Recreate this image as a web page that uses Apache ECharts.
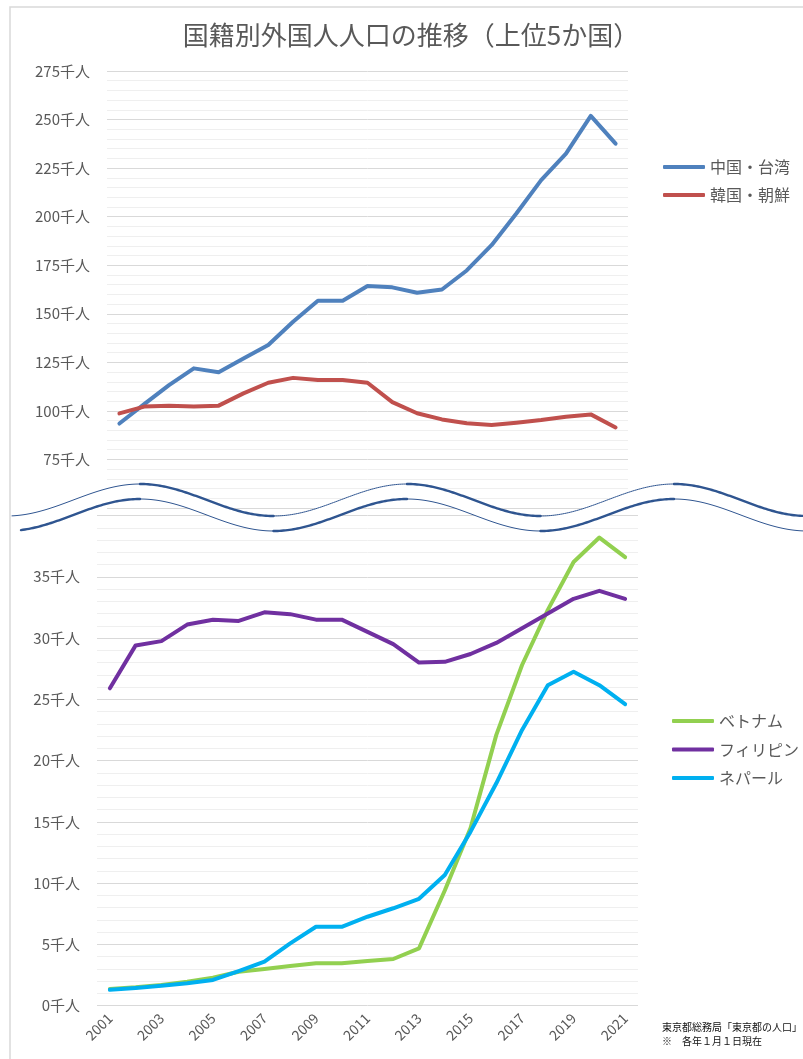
<!DOCTYPE html>
<html>
<head>
<meta charset="utf-8">
<script src="https://cdn.jsdelivr.net/npm/echarts@6/dist/echarts.min.js"></script>
<style>
    html, body {
        margin: 0;
        padding: 0;
        background: #fff;
    }
    #chart {
        width: 803px;
        height: 1059px;
    }
</style>
</head>
<body>
<div id="chart"></div>
<script>
// 年 (x軸)
const years = ['2001', '2002', '2003', '2004', '2005', '2006', '2007', '2008', '2009', '2010', '2011',
    '2012', '2013', '2014', '2015', '2016', '2017', '2018', '2019', '2020', '2021'];

// 上段 (千人)
const chinaTaiwan = [93.5, 103.5, 113.3, 121.9, 119.9, 127.0, 133.9, 145.9, 156.7, 156.7, 164.3,
    163.6, 160.8, 162.5, 172.3, 185.3, 201.6, 218.8, 232.5, 251.9, 237.6];
const korea = [98.7, 102.2, 102.7, 102.2, 102.7, 109.0, 114.5, 117.0, 115.9, 115.9, 114.5,
    104.5, 98.8, 95.6, 93.6, 92.7, 93.9, 95.3, 97.0, 98.2, 91.5];

// 下段 (千人)
const vietnam = [1.36, 1.5, 1.69, 1.96, 2.28, 2.77, 2.99, 3.24, 3.46, 3.46, 3.65,
    3.81, 4.68, 9.4, 14.5, 22.1, 27.8, 32.3, 36.2, 38.2, 36.6];
const philippines = [25.9, 29.4, 29.75, 31.1, 31.5, 31.4, 32.1, 31.95, 31.5, 31.5, 30.5,
    29.5, 28.0, 28.06, 28.7, 29.6, 30.8, 32.0, 33.2, 33.85, 33.2];
const nepal = [1.3, 1.45, 1.63, 1.83, 2.1, 2.83, 3.59, 5.09, 6.44, 6.44, 7.26,
    7.95, 8.72, 10.66, 14.2, 18.15, 22.5, 26.15, 27.25, 26.15, 24.6];

const FONT = '"Noto Sans CJK JP", "Noto Sans", sans-serif';
const GRAY = '#595959';

// 省略の波線
function waveY(x, base) {
    return base - 16 * Math.cos(2 * Math.PI * (x - 140) / 267);
}

function wavePoints(x0, x1, base) {
    const pts = [];

    for (let x = x0; x < x1; x += 2)
        pts.push([x, waveY(x, base)]);
    pts.push([x1, waveY(x1, base)]);
    return pts;
}

function waveGraphics() {
    const upper = wavePoints(12, 806, 500);
    const lower = wavePoints(21, 806, 515);
    const out = [{
        type: 'polygon',
        z: 100,
        shape: {points: upper.concat(lower.slice().reverse())},
        style: {fill: '#fff', stroke: null}
    }];
    const lines = [[12, 500, false], [21, 515, true]];

    lines.forEach(([start, base, thickRise]) => {
        for (let n = -1; n < 7; n += 1) {
            const a = Math.max(start, 140 + 133.5 * n);
            const b = Math.min(806, 140 + 133.5 * (n + 1));

            if (b <= a)
                continue;
            const rising = n % 2 !== 0;
            const thick = thickRise ? rising : !rising;

            out.push({
                type: 'polyline',
                z: 101,
                shape: {points: wavePoints(a, b, base)},
                style: {stroke: '#2f5590', lineWidth: thick ? 2.4 : 1, fill: null, lineCap: 'round'}
            });
        }
    });
    return out;
}

const chart = echarts.init(document.getElementById('chart'), null, {renderer: 'canvas'});

const lineSeries = (name, data, color, idx) => ({
    name: name,
    type: 'line',
    data: data,
    xAxisIndex: idx,
    yAxisIndex: idx,
    symbol: 'none',
    lineStyle: {width: 4, color: color, cap: 'round', join: 'round'},
    itemStyle: {color: color},
    z: 5
});

const yAxisBase = {
    type: 'value',
    axisLine: {show: false},
    axisTick: {show: false},
    splitLine: {lineStyle: {color: '#d9d9d9', width: 1}},
    minorTick: {show: false, splitNumber: 5},
    minorSplitLine: {show: true, lineStyle: {color: '#efefef', width: 1}},
    axisLabel: {color: GRAY, fontSize: 15, fontFamily: FONT, margin: 17}
};

const legendBase = {
    orient: 'vertical',
    padding: 0,
    icon: 'roundRect',
    itemWidth: 42,
    itemHeight: 4,
    itemGap: 12,
    textStyle: {color: GRAY, fontSize: 16, fontFamily: FONT, lineHeight: 14}
};

chart.setOption({
    animation: false,
    textStyle: {fontFamily: FONT},
    grid: [
        {left: 107, right: 175, top: 71, height: 437},
        {left: 97, right: 165, top: 515.5, height: 490.2}
    ],
    xAxis: [
        {
            type: 'category',
            gridIndex: 0,
            data: years,
            boundaryGap: true,
            axisLine: {show: false},
            axisTick: {show: false},
            axisLabel: {show: false}
        },
        {
            type: 'category',
            gridIndex: 1,
            data: years,
            boundaryGap: true,
            axisLine: {show: false},
            axisTick: {show: false},
            axisLabel: {
                color: GRAY,
                fontSize: 14,
                fontFamily: FONT,
                rotate: 45,
                interval: 1,
                margin: 10
            }
        }
    ],
    yAxis: [
        Object.assign({}, yAxisBase, {
            gridIndex: 0,
            min: 50,
            max: 275,
            interval: 25,
            axisLabel: Object.assign({}, yAxisBase.axisLabel, {
                formatter: v => v < 75 ? '' : v + '千人'
            })
        }),
        Object.assign({}, yAxisBase, {
            gridIndex: 1,
            min: 0,
            max: 40,
            interval: 5,
            axisLabel: Object.assign({}, yAxisBase.axisLabel, {
                formatter: v => v > 35 ? '' : v + '千人'
            })
        })
    ],
    legend: [
        Object.assign({}, legendBase, {
            data: ['中国・台湾', '韓国・朝鮮'],
            left: 663,
            top: 159
        }),
        Object.assign({}, legendBase, {
            data: ['ベトナム', 'フィリピン', 'ネパール'],
            left: 672,
            top: 713,
            itemGap: 12.5
        })
    ],
    series: [
        lineSeries('中国・台湾', chinaTaiwan, '#4f81bd', 0),
        lineSeries('韓国・朝鮮', korea, '#c0504d', 0),
        lineSeries('ベトナム', vietnam, '#92d050', 1),
        lineSeries('フィリピン', philippines, '#7030a0', 1),
        lineSeries('ネパール', nepal, '#00b0f0', 1)
    ],
    graphic: [
        {
            type: 'rect',
            z: 0,
            shape: {x: 10, y: 7, width: 900, height: 1200},
            style: {fill: null, stroke: '#d9d9d9', lineWidth: 1.5}
        },
        {
            type: 'text',
            x: 411,
            y: 35,
            style: {
                text: '国籍別外国人人口の推移（上位5か国）',
                fill: GRAY,
                font: '26px ' + FONT,
                textAlign: 'center',
                textVerticalAlign: 'middle'
            }
        },
        {
            type: 'text',
            x: 662,
            y: 1027,
            style: {
                text: '東京都総務局「東京都の人口」',
                fill: '#111',
                font: '10px ' + FONT,
                textVerticalAlign: 'middle'
            }
        },
        {
            type: 'text',
            x: 662,
            y: 1041,
            style: {
                text: '※　各年１月１日現在',
                fill: '#111',
                font: '10px ' + FONT,
                textVerticalAlign: 'middle'
            }
        }
    ].concat(waveGraphics())
});
</script>
</body>
</html>
